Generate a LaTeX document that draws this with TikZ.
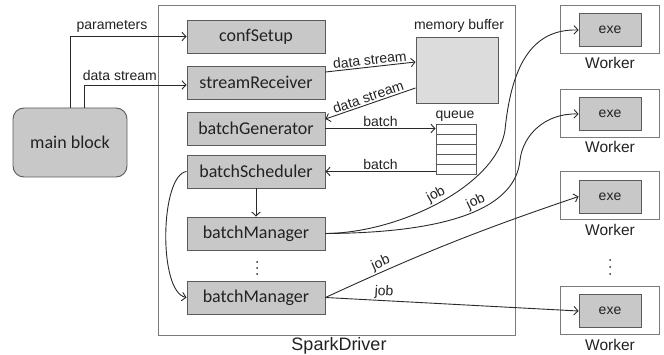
\documentclass[tikz,border=0pt]{standalone}
\usepackage{fontspec}
\setmainfont{Liberation Sans}
\newfontfamily\boxfont{Carlito}
\usetikzlibrary{arrows.meta}
\definecolor{boxfill}{HTML}{C8C8C8}
\definecolor{buffill}{HTML}{DCDCDC}
\definecolor{edgecol}{HTML}{5A5A5A}
\definecolor{linecol}{HTML}{2A2A2A}
\definecolor{txt}{HTML}{222222}
\tikzset{
  every node/.style={text=txt, inner sep=0pt},
  compbox/.style={draw=edgecol, fill=boxfill, line width=0.9pt, minimum width=138pt, minimum height=33pt, font=\boxfont\fontsize{18}{20}\selectfont},
  exebox/.style={draw=edgecol, fill=boxfill, line width=0.9pt, minimum width=62pt, minimum height=33pt, font=\fontsize{14}{16}\selectfont},
  workbox/.style={draw=edgecol!80, line width=0.9pt, minimum width=99pt, minimum height=48pt},
  lbl/.style={font=\fontsize{14}{16}\selectfont},
  wlbl/.style={font=\fontsize{15.5}{18}\selectfont},
  conn/.style={draw=linecol, line width=0.9pt, -{Straight Barb[length=4pt,width=8.5pt]}},
  elbl/.style={font=\fontsize{14}{16}\selectfont, sloped, above=1.5pt}
}
\begin{document}
\begin{tikzpicture}[x=1pt,y=-1pt]
\useasboundingbox (0,0) rectangle (664,355);
% SparkDriver frame
\node[draw=edgecol!80, line width=0.9pt, minimum width=357pt, minimum height=330pt] (drv) at (336.5,170) {};
\node[font=\fontsize{18}{20}\selectfont] (drvlbl) at (339,346) {SparkDriver};
% main block
\node[draw=edgecol, fill=boxfill, line width=0.9pt, rounded corners=11pt, minimum width=114pt, minimum height=69pt, font=\boxfont\fontsize{18}{20}\selectfont] (main) at (70,142.5) {main block};
% components
\node[compbox] (conf) at (256,36.5) {confSetup};
\node[compbox] (sr) at (256,82.5) {streamReceiver};
\node[compbox] (bg) at (256,128.5) {batchGenerator};
\node[compbox] (bs) at (256,171.5) {batchScheduler};
\node[compbox] (bm1) at (256,233.5) {batchManager};
\node[compbox] (bm2) at (256,297.5) {batchManager};
\fill[linecol] (257,262) circle (1pt) (257,268) circle (1pt) (257,274) circle (1pt);
% memory buffer
\node[draw=edgecol, fill=buffill, line width=0.9pt, minimum width=82pt, minimum height=66pt] (mem) at (457,70) {};
\node[lbl] (memlbl) at (459,26) {memory buffer};
% queue
\node[draw=edgecol, line width=0.9pt, minimum width=40pt, minimum height=50pt] (q) at (456,149) {};
\foreach \yy in {134,144,154,164} \draw[edgecol, line width=0.9pt] (436,\yy) -- (476,\yy);
\node[lbl] (qlbl) at (455,116) {queue};
% workers
\foreach \i/\yc/\ly in {1/29/63, 2/113/147, 3/195.5/230, 4/310/345} {
  \node[workbox] (w\i) at (609.5,\yc) {};
  \node[exebox] (exe\i) at (610,\yc+1) {exe};
  \node[wlbl] (wl\i) at (610,\ly) {Worker};
}
\fill[linecol] (610,260) circle (1pt) (610,267) circle (1pt) (610,274) circle (1pt);
% connectors
\draw[conn] (main.north) |- node[lbl, pos=0.68, above=4pt] {parameters} (conf.west);
\draw[conn] ([xshift=14pt]main.north) |- node[lbl, pos=0.675, above=4pt] {data stream} ([yshift=-2.5pt]sr.west);
\draw[conn] ([yshift=10.5pt]sr.east) -- node[elbl] {data stream} ([yshift=8pt]mem.west);
\draw[conn] ([yshift=-18pt]mem.west) -- node[elbl] {data stream} ([yshift=9.5pt]bg.east);
\draw[conn] (bg.east) -- node[elbl] {batch} (bg.east -| q.west);
\draw[conn] (q.west |- bs.east) -- node[elbl] {batch} (bs.east);
\draw[conn] (bs.south) -- (bm1.north);
\draw[conn] (bs.west) .. controls (160,175) and (158,292) .. (bm2.west);
\draw[conn] (bm1.east) .. controls (400,233) and (497,185) .. node[elbl, pos=0.5] {job} (505,130) .. controls (512,60) and (535,29) .. (exe1.west);
\draw[conn] (bm1.east) .. controls (430,233) and (515,215) .. node[elbl, pos=0.6] {job} (520,160) .. controls (523,135) and (545,113) .. (exe2.west);
\draw[conn] (bm2.east) to[bend left=3] node[elbl, pos=0.22] {job} (exe3.west);
\draw[conn] (bm2.east) -- node[elbl, pos=0.23] {job} (exe4.west);
\end{tikzpicture}
\end{document}
